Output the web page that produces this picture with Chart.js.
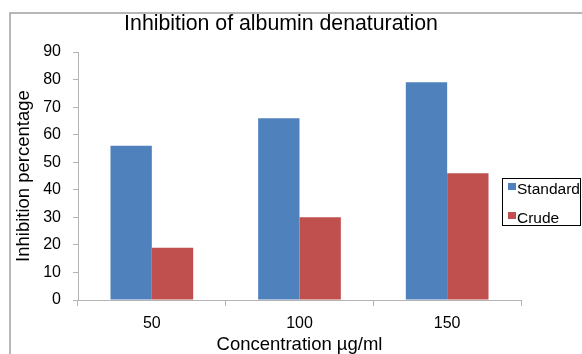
<!DOCTYPE html>
<html>
<head>
<meta charset="utf-8">
<script src="https://cdn.jsdelivr.net/npm/chart.js@4.4.1/dist/chart.umd.min.js"></script>
<style>
  html, body { margin: 0; padding: 0; background: #fff; }
  #wrap { width: 582px; height: 354px; }
</style>
</head>
<body>
<div id="wrap"><canvas id="myChart" width="582" height="354"></canvas></div>
<script>
var categories = ['50', '100', '150'];
var standardValues = [56, 66, 79];
var crudeValues = [19, 30, 46];
var seriesNames = ['Standard', 'Crude'];

var FONT = "'Liberation Sans', Arial, sans-serif";

// grey outer frame (only top and left edges are visible in the picture)
var framePlugin = {
    id: 'frame',
    beforeDraw: function (chart) {
        var c = chart.ctx;
        c.save();
        c.fillStyle = '#fff';
        c.fillRect(0, 0, chart.width, chart.height);
        c.strokeStyle = '#a0a0a0';
        c.lineWidth = 1.5;
        c.strokeRect(10, 13, 700, 500);
        c.restore();
    }
};

// boxed legend on the right
var boxLegend = {
    id: 'boxLegend',
    afterDraw: function (chart) {
        var c = chart.ctx;
        c.save();
        c.strokeStyle = '#000';
        c.lineWidth = 1;
        c.strokeRect(502.5, 178.5, 78, 47);
        c.font = '15.5px ' + FONT;
        c.textBaseline = 'alphabetic';
        c.textAlign = 'left';
        chart.data.datasets.forEach(function (ds, i) {
            var y = 183 + i * 29;
            c.fillStyle = ds.backgroundColor;
            c.fillRect(508, y, 8, 7);
            c.fillStyle = '#000';
            c.fillText(ds.label, 517, y + 10.5);
        });
        c.restore();
    }
};

var ctx = document.getElementById('myChart');

var myChart = new Chart(ctx, {
    type: 'bar',
    data: {
        labels: categories,
        datasets: [{
            label: seriesNames[0],
            data: standardValues,
            backgroundColor: '#4F81BD',
            categoryPercentage: 0.56,
            barPercentage: 1.0
        }, {
            label: seriesNames[1],
            data: crudeValues,
            backgroundColor: '#C0504D',
            categoryPercentage: 0.56,
            barPercentage: 1.0
        }]
    },
    options: {
        responsive: false,
        animation: false,
        layout: {
            padding: { left: 0, right: 20, top: 0, bottom: 0 }
        },
        plugins: {
            legend: { display: false },
            tooltip: { enabled: false },
            title: {
                display: true,
                text: 'Inhibition of albumin denaturation',
                color: '#000',
                font: { family: FONT, size: 21.3, weight: 'normal' },
                padding: { top: 11, bottom: 15.5 }
            }
        },
        scales: {
            x: {
                grid: {
                    offset: true,
                    drawOnChartArea: false,
                    drawTicks: true,
                    tickLength: 6,
                    color: '#b4b4b4'
                },
                border: { color: '#b4b4b4' },
                ticks: {
                    color: '#000',
                    padding: 8,
                    font: { family: FONT, size: 16 }
                },
                title: {
                    display: true,
                    text: 'Concentration µg/ml',
                    color: '#000',
                    font: { family: FONT, size: 18.5 },
                    padding: { top: 0, bottom: -2 }
                },
                afterFit: function (s) { s.height = 54; }
            },
            y: {
                min: 0,
                max: 90,
                ticks: {
                    stepSize: 10,
                    color: '#000',
                    padding: 12,
                    font: { family: FONT, size: 16 }
                },
                grid: {
                    drawOnChartArea: false,
                    drawTicks: true,
                    tickLength: 5,
                    color: '#b4b4b4'
                },
                border: { color: '#b4b4b4' },
                title: {
                    display: true,
                    text: 'Inhibition percentage',
                    color: '#000',
                    font: { family: FONT, size: 18.5 },
                    padding: { top: 12.5, bottom: 0 }
                },
                afterFit: function (s) { s.width = 78; }
            },
            // empty right-hand axis that reserves the legend space
            yRight: {
                position: 'right',
                display: true,
                grid: { display: false },
                border: { display: false },
                ticks: { display: false },
                afterFit: function (s) { s.width = 41; }
            }
        }
    },
    plugins: [framePlugin, boxLegend]
});
</script>
</body>
</html>
